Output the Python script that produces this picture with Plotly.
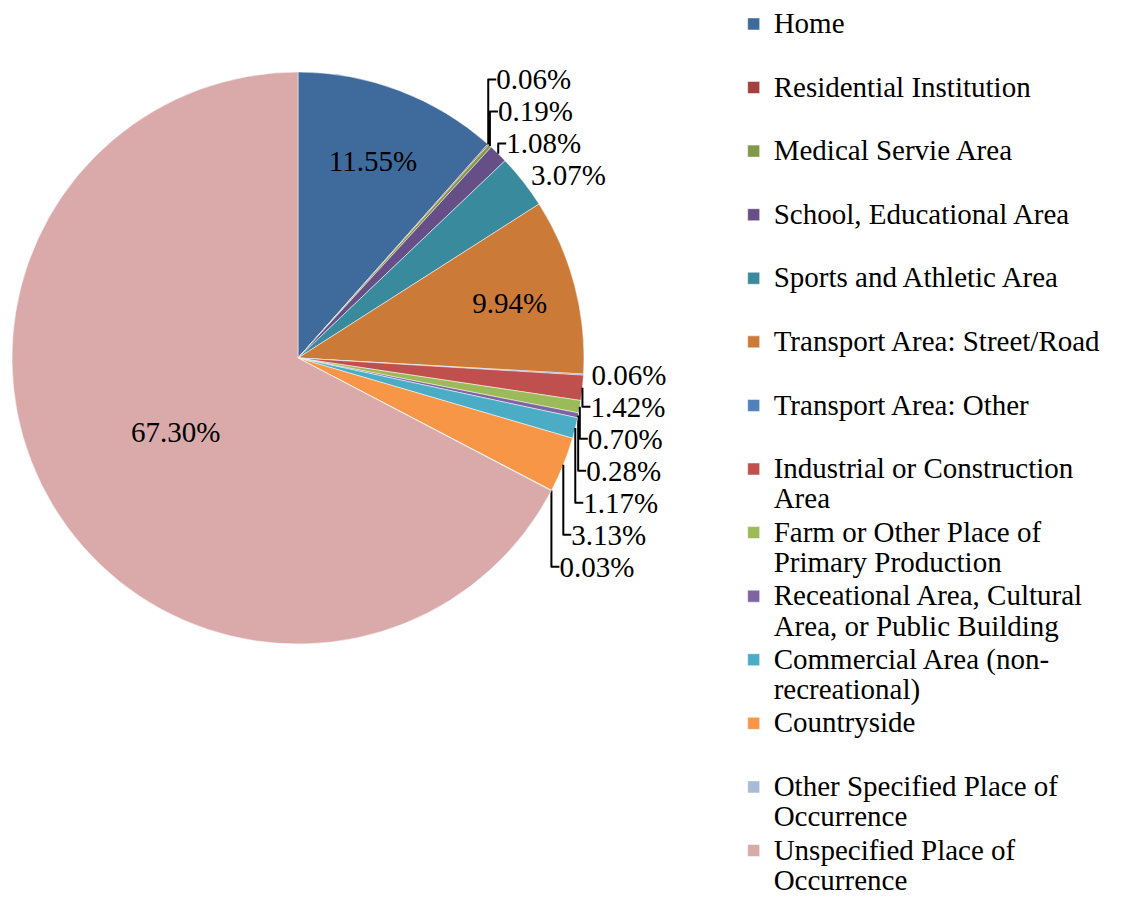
import plotly.graph_objects as go

# place of occurrence categories and shares (%)
places = [
    "Home",
    "Residential Institution",
    "Medical Servie Area",
    "School, Educational Area",
    "Sports and Athletic Area",
    "Transport Area: Street/Road",
    "Transport Area: Other",
    "Industrial or Construction<br>Area",
    "Farm or Other Place of<br>Primary Production",
    "Receational Area, Cultural<br>Area, or Public Building",
    "Commercial Area (non-<br>recreational)",
    "Countryside",
    "Other Specified Place of<br>Occurrence",
    "Unspecified Place of<br>Occurrence",
]
shares = [11.55, 0.06, 0.19, 1.08, 3.07, 9.94, 0.06, 1.42, 0.70, 0.28, 1.17, 3.13, 0.03, 67.30]
colors = ["#3F6A9C", "#A4403D", "#7F9A48", "#664F86", "#3A8A9E", "#CB7B37", "#4F81BD",
          "#C0504D", "#9BBB59", "#8064A2", "#4BACC6", "#F79646", "#A9B9D8", "#D9AAA9"]

# single-line legend entries get an empty second line so every entry is the same height
legend_names = []
for p in places:
    txt = p if "<br>" in p else p + "<br> "
    legend_names.append('<span style="font-size:29px">' + txt + "</span>")

positions = ["inside" if s > 5 else "outside" for s in shares]

W, H = 1113, 890  # page body adds an 8px margin

fig = go.Figure(go.Pie(
    labels=legend_names,
    values=shares,
    sort=False,
    direction="clockwise",
    rotation=0,
    marker=dict(colors=colors, line=dict(color="white", width=0.5)),
    texttemplate="%{value:.2f}%",
    textposition=positions,
    insidetextorientation="horizontal",
    textfont=dict(family="Liberation Serif", size=29, color="black"),
    domain=dict(x=[4 / W, 576 / W], y=[254 / H, 826 / H]),
    hoverinfo="label+value",
))

fig.update_layout(
    width=W, height=H,
    margin=dict(l=0, r=0, t=0, b=0, autoexpand=False),
    paper_bgcolor="white",
    font=dict(family="Liberation Serif", color="black"),
    legend=dict(
        x=0.652, y=1.0064, xanchor="left", yanchor="top",
        valign="top",
        maxheight=1000,
        font=dict(family="Liberation Serif", size=23.3, color="black"),
        bgcolor="rgba(0,0,0,0)",
    ),
)

fig.write_html("out.html")
